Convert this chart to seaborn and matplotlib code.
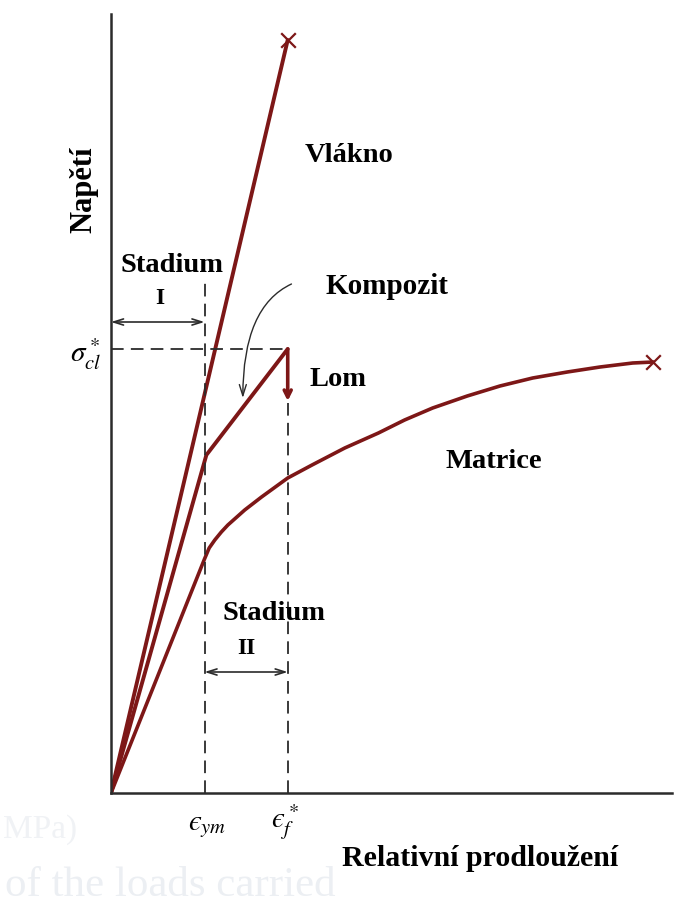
import numpy as np
import pandas as pd
import seaborn as sns
import matplotlib.pyplot as plt

# strain (arbitrary units, eps_ym = 1) and stress (arbitrary units)
eps_ym = 1.0
eps_f = 1.89
sigma_cl = 4.44

fibre_x = [0.0, 1.89]
fibre_y = [0.0, 7.53]

comp_x = [0.0, 1.02, 1.89]
comp_y = [0.0, 3.38, 4.44]
comp_drop = 3.92

matrix_x = [0.0, 1.0, 1.05, 1.11, 1.18, 1.25, 1.43, 1.61, 1.89, 2.15, 2.50, 2.86, 3.14,
            3.44, 3.81, 4.16, 4.51, 4.88, 5.23, 5.58, 5.80]
matrix_y = [0.0, 2.34, 2.45, 2.53, 2.61, 2.68, 2.83, 2.96, 3.15, 3.28, 3.45, 3.60, 3.73,
            3.85, 3.97, 4.07, 4.15, 4.21, 4.26, 4.30, 4.31]

RED = '#7d1717'
INK = '#2b2b2b'
W, H = 676, 911

sns.set_style('white')
plt.rcParams['font.family'] = ['Liberation Serif', 'DejaVu Serif']
plt.rcParams['mathtext.fontset'] = 'stix'

fig = plt.figure(figsize=(W / 100, H / 100), dpi=100)
ax = fig.add_axes([111 / W, (H - 793) / H, 561 / W, 779 / H])
ax.set_xlim(0, 6.0)
ax.set_ylim(0, 7.79)

# curves
sns.lineplot(x=fibre_x, y=fibre_y, ax=ax, color=RED, lw=2.8, sort=False, estimator=None)
sns.lineplot(x=comp_x, y=comp_y, ax=ax, color=RED, lw=2.8, sort=False, estimator=None)
sns.lineplot(x=matrix_x, y=matrix_y, ax=ax, color=RED, lw=2.6, sort=False, estimator=None)
ends = pd.DataFrame({'x': [fibre_x[-1], matrix_x[-1]], 'y': [fibre_y[-1], matrix_y[-1]]})
sns.scatterplot(data=ends, x='x', y='y', ax=ax, marker='x', s=110, color=RED,
                linewidth=1.6, zorder=5)

# fracture drop of the composite
ax.annotate('', xy=(eps_f, comp_drop), xytext=(eps_f, sigma_cl),
            arrowprops=dict(arrowstyle='->,head_length=0.5,head_width=0.25',
                            color=RED, lw=2.6, shrinkA=0, shrinkB=0))

# dashed guides
dash = dict(color=INK, lw=1.3, ls=(0, (7, 4)))
ax.plot([eps_ym, eps_ym], [0, 5.11], **dash)
ax.plot([eps_f, eps_f], [0, comp_drop], **dash)
ax.plot([0, eps_f], [sigma_cl, sigma_cl], **dash)

# stage arrows
dbl = dict(arrowstyle='<->,head_length=0.7,head_width=0.22', color=INK, lw=1.2,
           shrinkA=0, shrinkB=0)
ax.annotate('', xy=(0, 4.71), xytext=(eps_ym, 4.71), arrowprops=dbl)
ax.annotate('', xy=(eps_ym, 1.21), xytext=(eps_f, 1.21), arrowprops=dbl)

# curved pointer to the composite curve
ax.annotate('', xy=(1.41, 3.95), xytext=(1.93, 5.09),
            arrowprops=dict(arrowstyle='->,head_length=0.8,head_width=0.25', color=INK,
                            lw=1.0, shrinkA=0, shrinkB=0,
                            connectionstyle='angle3,angleA=25,angleB=90'))

sns.despine(ax=ax)
for s in ('left', 'bottom'):
    ax.spines[s].set_color(INK)
    ax.spines[s].set_linewidth(1.8)
ax.set_xticks([])
ax.set_yticks([])
ax.set_xlabel('')
ax.set_ylabel('')


def put(x, y, s, **kw):
    kw.setdefault('fontsize', 20.5)
    kw.setdefault('fontweight', 'bold')
    kw.setdefault('color', 'black')
    fig.text(x / W, 1 - y / H, s, ha='center', va='center', **kw)


# faint bleed-through from the scanned page
put(170, 886, 'of the loads carried', fontsize=31, fontweight='normal', color='#eceff3')
put(40, 830, 'MPa)', fontsize=24, fontweight='normal', color='#f0f2f5')

put(349, 155, 'Vlákno')
put(387, 287, 'Kompozit', fontsize=21)
put(338, 380, 'Lom')
put(494, 462, 'Matrice')
put(172, 265, 'Stadium')
put(160, 299, 'I', fontsize=17)
put(274, 613, 'Stadium')
put(246, 648, 'II', fontsize=17)
put(480, 858, 'Relativní prodloužení', fontsize=21.5)
put(84, 190, 'Napětí', rotation=90, fontsize=22)
put(86, 354, r'$\sigma^*_{cl}$', fontsize=21)
put(207, 827, '$\u03f5_{ym}$', fontsize=21)
put(285, 822, '$\u03f5^*_f$', fontsize=21)

fig.savefig('out.png', dpi=100)
